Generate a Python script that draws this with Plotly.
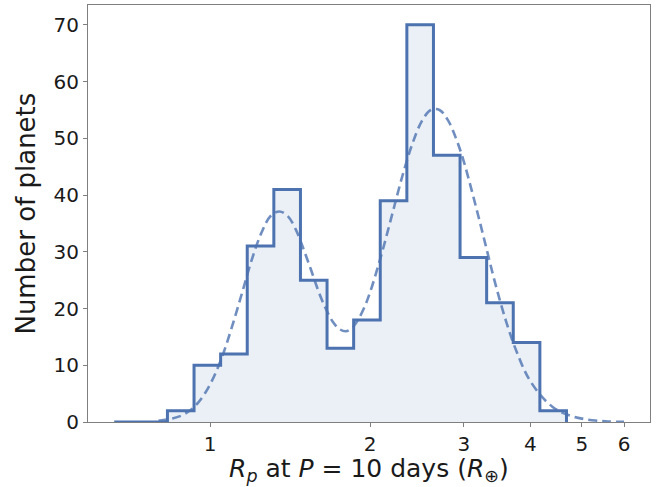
import numpy as np
import plotly.graph_objects as go

# Histogram: bin edges in log10(Rp) and counts per bin
log_edges = [-0.18, -0.13, -0.08, -0.03, 0.02, 0.07, 0.12, 0.17, 0.22, 0.27,
             0.32, 0.37, 0.42, 0.47, 0.52, 0.57, 0.62, 0.67]
counts = [0, 0, 2, 10, 12, 31, 41, 25, 13, 18, 39, 70, 47, 29, 21, 14, 2]

# Dashed model curve
curve_r = [0.80, 0.85, 0.90, 0.95, 1.00, 1.05, 1.10, 1.15, 1.20, 1.25, 1.30, 1.35,
           1.40, 1.45, 1.50, 1.55, 1.60, 1.65, 1.70, 1.75, 1.80, 1.85, 1.90, 1.95,
           2.00, 2.10, 2.20, 2.30, 2.40, 2.50, 2.60, 2.70, 2.80, 2.90, 3.00, 3.10,
           3.20, 3.30, 3.40, 3.50, 3.60, 3.70, 3.80, 3.90, 4.00, 4.20, 4.40, 4.60,
           4.80, 5.00, 5.30, 5.60, 6.00]
curve_n = [0.2, 0.6, 1.5, 3.4, 6.6, 11.1, 16.8, 22.9, 28.8, 33.4, 36.3, 37.1,
           36.3, 33.9, 30.4, 26.7, 23.0, 20.0, 17.7, 16.4, 16.0, 16.6, 18.1, 20.2,
           22.9, 29.5, 36.6, 43.4, 49.0, 53.0, 55.0, 55.0, 53.2, 50.0, 45.9, 41.0,
           36.0, 31.0, 26.1, 21.7, 17.8, 14.4, 11.6, 9.1, 7.2, 4.5, 2.7, 1.6,
           1.0, 0.6, 0.25, 0.1, 0.03]

x_ticks = [1, 2, 3, 4, 5, 6]
y_ticks = [0, 10, 20, 30, 40, 50, 60, 70]

BLUE = "#4C72B0"
edges = [10 ** e for e in log_edges]

fig = go.Figure()
fig.add_trace(go.Scatter(
    x=edges, y=counts + [0], mode="lines", line_shape="hv",
    line=dict(color=BLUE, width=3), fill="tozeroy",
    fillcolor="rgba(76,114,176,0.11)", hoverinfo="skip", showlegend=False))
fig.add_trace(go.Scatter(
    x=curve_r, y=curve_n, mode="lines", line_shape="spline",
    line=dict(color="rgba(76,114,176,0.8)", width=2.6, dash="9px,5px"),
    showlegend=False))

axis_common = dict(showline=True, linecolor="#7f7f7f", linewidth=1.2, mirror=True,
                   showgrid=False, zeroline=False, ticks="outside", ticklen=4,
                   tickcolor="#7f7f7f", tickwidth=1.2,
                   tickfont=dict(family="DejaVu Sans", size=20, color="#1a1a1a"),
                   layer="below traces")

fig.update_xaxes(type="log", range=[-0.2293, 0.827], tickvals=x_ticks,
                 ticktext=[str(v) for v in x_ticks], **axis_common)
fig.update_yaxes(range=[0, 73.5], tickvals=y_ticks,
                 ticktext=[str(v) for v in y_ticks], **axis_common)

fig.add_annotation(text="Number of planets", xref="paper", yref="paper",
                   x=-0.112, y=0.5, textangle=-90, showarrow=False,
                   xanchor="center", yanchor="middle",
                   font=dict(family="DejaVu Sans", size=26, color="#1a1a1a"))
fig.add_annotation(text="<i>R</i><sub><i>p</i></sub> at <i>P</i> = 10 days (<i>R</i><sub>⊕</sub>)",
                   xref="paper", yref="paper", x=0.5, y=-0.115, showarrow=False,
                   xanchor="center", yanchor="middle",
                   font=dict(family="DejaVu Sans", size=25, color="#1a1a1a"))

fig.update_layout(width=665, height=487, margin=dict(l=88, r=15, t=5, b=65),
                  plot_bgcolor="white", paper_bgcolor="white")

fig.write_html("out.html", config={"displayModeBar": False},
               post_script="document.body.style.margin='0';document.body.style.overflow='hidden';")
